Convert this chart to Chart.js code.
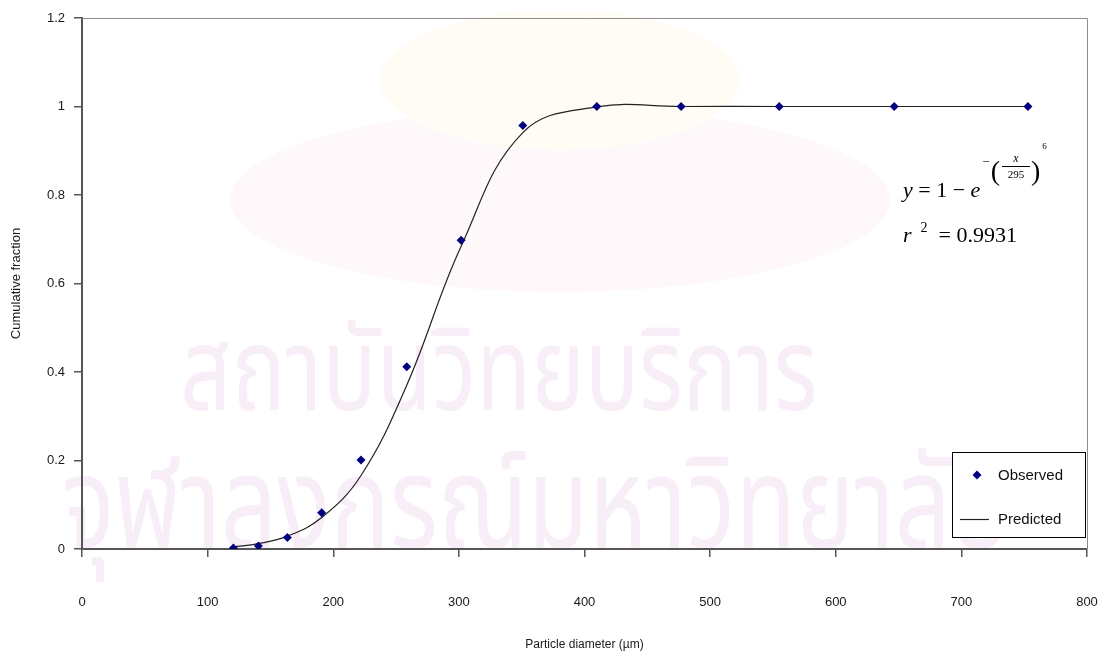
<!DOCTYPE html>
<html>
<head>
<meta charset="utf-8">
<script src="https://cdn.jsdelivr.net/npm/chart.js@4.4.0/dist/chart.umd.min.js"></script>
<style>
  html, body { margin: 0; padding: 0; background: #fff; }
  #wrap { width: 1108px; height: 656px; position: relative; }
  canvas { display: block; }
</style>
</head>
<body>
<div id="wrap"><canvas id="psd" width="1108" height="656"></canvas></div>
<script>
// Sieve diameters (µm) with observed and fitted cumulative passing fractions
const diameters = [120.5, 140.4, 163.5, 190.8, 222.1, 258.5, 301.8, 350.9, 409.8, 476.9, 555.0, 646.5, 753.0];
const observed  = [0.002, 0.007, 0.026, 0.082, 0.201, 0.412, 0.698, 0.957, 1.0, 1.0, 1.0, 1.0, 1.0];
const predicted = [0.005, 0.012, 0.029, 0.071, 0.166, 0.370, 0.684, 0.941, 0.999, 1.0, 1.0, 1.0, 1.0];

const xTickLabels = ['0', '100', '200', '300', '400', '500', '600', '700', '800'];
const yTickLabels = ['0', '0.2', '0.4', '0.6', '0.8', '1', '1.2'];
const seriesNames = ['Observed', 'Predicted'];
const axisTitles = { x: 'Particle diameter (\u00b5m)', y: 'Cumulative fraction' };
const fitText = { scale: '295', shape: '6', r2: '0.9931' };
const watermarkLines = ['\u0e2a\u0e16\u0e32\u0e1a\u0e31\u0e19\u0e27\u0e34\u0e17\u0e22\u0e1a\u0e23\u0e34\u0e01\u0e32\u0e23',
                        '\u0e08\u0e38\u0e2c\u0e32\u0e25\u0e07\u0e01\u0e23\u0e13\u0e4c\u0e21\u0e2b\u0e32\u0e27\u0e34\u0e17\u0e22\u0e32\u0e25\u0e31\u0e22'];

const SANS = '"Liberation Sans", Arial, sans-serif';
const SERIF = '"Liberation Serif", "Times New Roman", serif';
const THAI = '"Noto Sans Thai", "Noto Sans", "DejaVu Sans", sans-serif';
const MARKER = '#000080';
const AXIS = '#555555';

Chart.defaults.font.family = SANS;
Chart.defaults.color = '#1a1a1a';

function diamond(ctx, x, y, r) {
  ctx.beginPath();
  ctx.moveTo(x, y - r);
  ctx.lineTo(x + r, y);
  ctx.lineTo(x, y + r);
  ctx.lineTo(x - r, y);
  ctx.closePath();
  ctx.fill();
}

// Pale background seal and institute lettering
const backdrop = {
  id: 'backdrop',
  beforeDraw(chart) {
    const ctx = chart.ctx;
    ctx.save();
    ctx.fillStyle = '#ffffff';
    ctx.fillRect(0, 0, chart.width, chart.height);
    ctx.fillStyle = '#fef8fa';
    ctx.beginPath();
    ctx.ellipse(560, 200, 330, 92, 0, 0, Math.PI * 2);
    ctx.fill();
    ctx.fillStyle = '#fefcf4';
    ctx.beginPath();
    ctx.ellipse(560, 80, 180, 70, 0, 0, Math.PI * 2);
    ctx.fill();
    ctx.fillStyle = '#f7eef7';
    ctx.textBaseline = 'alphabetic';
    ctx.textAlign = 'left';
    const place = (txt, left, right, base) => {
      ctx.font = '100px ' + THAI;
      const w = ctx.measureText(txt).width;
      const size = 100 * (right - left) / w;
      ctx.save();
      ctx.translate(left, base);
      ctx.scale(1, 1.3);
      ctx.font = size.toFixed(1) + 'px ' + THAI;
      ctx.fillText(txt, 0, 0, right - left);
      ctx.restore();
    };
    place(watermarkLines[0], 180, 818, 410);
    place(watermarkLines[1], 62, 1010, 548);
    ctx.restore();
  }
};

// Top and right edges of the plot frame
const frame = {
  id: 'frame',
  beforeDatasetsDraw(chart) {
    const { ctx, chartArea: a } = chart;
    ctx.save();
    ctx.strokeStyle = '#8c8c8c';
    ctx.lineWidth = 1;
    ctx.beginPath();
    ctx.moveTo(a.left, a.top + 0.5);
    ctx.lineTo(a.right + 0.5, a.top + 0.5);
    ctx.lineTo(a.right + 0.5, a.bottom);
    ctx.stroke();
    ctx.restore();
  }
};

// Boxed legend in the lower right corner of the plot
const boxLegend = {
  id: 'boxLegend',
  afterDraw(chart) {
    const { ctx, chartArea: a } = chart;
    const ds = chart.data.datasets;
    const w = 133, h = 85;
    const left = a.right - 2 - w, top = a.bottom - 12 - h;
    ctx.save();
    ctx.fillStyle = '#ffffff';
    ctx.fillRect(left, top, w, h);
    ctx.strokeStyle = '#000000';
    ctx.lineWidth = 1;
    ctx.strokeRect(Math.round(left) + 0.5, Math.round(top) + 0.5, w, h);
    ctx.font = '15px ' + SANS;
    ctx.textBaseline = 'middle';
    ctx.textAlign = 'left';
    // Observed
    ctx.fillStyle = ds[0].backgroundColor;
    diamond(ctx, left + 25, top + 23, 4.5);
    ctx.fillStyle = '#111';
    ctx.fillText(ds[0].label, left + 46, top + 24);
    // Predicted
    ctx.strokeStyle = ds[1].borderColor;
    ctx.lineWidth = 1.2;
    ctx.beginPath();
    ctx.moveTo(left + 8, top + 67.5);
    ctx.lineTo(left + 37, top + 67.5);
    ctx.stroke();
    ctx.fillText(ds[1].label, left + 46, top + 68);
    ctx.restore();
  }
};

// Fitted Weibull expression and correlation
const equation = {
  id: 'equation',
  afterDraw(chart) {
    const { ctx, chartArea: a } = chart;
    const x0 = a.right - 184;
    const y1 = a.top + 179;
    const y2 = a.top + 224;
    ctx.save();
    ctx.fillStyle = '#000';
    ctx.strokeStyle = '#000';
    ctx.textBaseline = 'alphabetic';
    ctx.textAlign = 'left';
    let x = x0;
    const put = (txt, font, dx, y) => {
      ctx.font = font;
      ctx.fillText(txt, x + dx, y);
      x += dx + ctx.measureText(txt).width;
    };
    put('y', 'italic 22px ' + SERIF, 0, y1);
    put(' = 1 \u2212 ', '22px ' + SERIF, 0, y1);
    put('e', 'italic 22px ' + SERIF, 0, y1);
    put('\u2212', '13px ' + SERIF, 2, y1 - 31);
    put('(', '28px ' + SERIF, 1, y1 - 17.5);
    // fraction x / 295
    const fl = x + 2, fw = 28, fc = fl + fw / 2;
    ctx.textAlign = 'center';
    ctx.font = 'italic 12px ' + SERIF;
    ctx.fillText('x', fc, y1 - 35);
    ctx.font = '11px ' + SERIF;
    ctx.fillText(fitText.scale, fc, y1 - 19);
    ctx.lineWidth = 1;
    ctx.beginPath();
    ctx.moveTo(fl, y1 - 30.5);
    ctx.lineTo(fl + fw, y1 - 30.5);
    ctx.stroke();
    ctx.textAlign = 'left';
    x = fl + fw + 1;
    put(')', '28px ' + SERIF, 0, y1 - 17.5);
    put(fitText.shape, '9px ' + SERIF, 2, y1 - 48);
    // r^2 line
    x = x0;
    put('r', 'italic 22px ' + SERIF, 0, y2);
    put('2', '14px ' + SERIF, 9, y2 - 10.5);
    put('= ' + fitText.r2, '22px ' + SERIF, 11, y2);
    ctx.restore();
  }
};

new Chart(document.getElementById('psd'), {
  type: 'scatter',
  data: {
    datasets: [
      {
        label: seriesNames[0],
        data: diameters.map((d, i) => ({ x: d, y: observed[i] })),
        showLine: false,
        pointStyle: 'rectRot',
        pointRadius: 4.5,
        pointHoverRadius: 4.5,
        pointBorderWidth: 0,
        backgroundColor: MARKER,
        borderColor: MARKER
      },
      {
        label: seriesNames[1],
        data: diameters.map((d, i) => ({ x: d, y: predicted[i] })),
        showLine: true,
        pointRadius: 0,
        pointHoverRadius: 0,
        borderColor: '#222222',
        borderWidth: 1.2,
        tension: 0.4,
        fill: false
      }
    ]
  },
  options: {
    responsive: false,
    animation: false,
    devicePixelRatio: 1,
    layout: { padding: { top: 18, right: 21, left: 0, bottom: 0 } },
    plugins: {
      legend: { display: false },
      tooltip: { enabled: false }
    },
    scales: {
      x: {
        type: 'linear',
        min: 0,
        max: 800,
        afterFit(scale) {
          scale.height = 107;
          scale.paddingLeft = 0;
          scale.paddingRight = 0;
        },
        border: { display: true, color: AXIS, width: 2 },
        grid: { display: true, drawOnChartArea: false, drawTicks: true, tickLength: 8, color: AXIS, lineWidth: 1.5 },
        ticks: {
          stepSize: 100,
          padding: 38,
          maxRotation: 0,
          font: { size: 13 },
          color: '#1a1a1a',
          callback: (v, i) => xTickLabels[i]
        },
        title: {
          display: true,
          text: axisTitles.x,
          font: { size: 12 },
          color: '#1a1a1a',
          padding: { top: 0, bottom: 4 }
        }
      },
      y: {
        type: 'linear',
        min: 0,
        max: 1.2,
        afterFit(scale) {
          scale.width = 82;
          scale.paddingTop = 0;
          scale.paddingBottom = 0;
        },
        border: { display: true, color: AXIS, width: 2 },
        grid: { display: true, drawOnChartArea: false, drawTicks: true, tickLength: 8, color: AXIS, lineWidth: 1.5 },
        ticks: {
          stepSize: 0.2,
          padding: 9,
          font: { size: 13 },
          color: '#1a1a1a',
          callback: (v, i) => yTickLabels[i]
        },
        title: {
          display: true,
          text: axisTitles.y,
          font: { size: 13 },
          color: '#1a1a1a',
          padding: { top: 9, bottom: 0 }
        }
      }
    }
  },
  plugins: [backdrop, frame, boxLegend, equation]
});
</script>
</body>
</html>
